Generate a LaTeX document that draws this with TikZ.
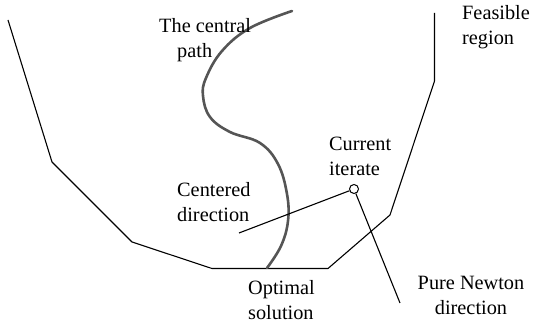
\documentclass[tikz,border=0pt]{standalone}
\usepackage{fontspec}
\setmainfont{Liberation Serif}
\begin{document}
\begin{tikzpicture}[x=1pt,y=-1pt,
  lbl/.style={inner sep=0pt, align=left, anchor=base west, font=\fontsize{20.3}{25.5}\selectfont},
  edge/.style={line width=1.1pt, line join=round},
  cpath/.style={line width=2.6pt, draw={rgb,255:red,85;green,85;blue,85}, line cap=round},
  iter/.style={circle, draw, line width=1pt, minimum size=9pt, inner sep=0pt}]
\useasboundingbox (0,0) rectangle (533,328);
% feasible region boundary
\coordinate (p1) at (8,20);
\coordinate (p2) at (52,162);
\coordinate (p3) at (132,242);
\coordinate (p4) at (212,268.5);
\coordinate (p5) at (328,268.5);
\coordinate (p6) at (390,215);
\coordinate (p7) at (434.5,81);
\coordinate (p8) at (434.5,13);
\draw[edge] (p1) -- (p2) -- (p3) -- (p4) -- (p5) -- (p6) -- (p7) -- (p8);
% central path
\draw[cpath] plot[smooth, tension=0.65] coordinates {(292,11) (250,28) (222,51) (206,78) (203,96) (210,117) (230,132) (260,143) (278,164) (287,194) (288,221) (281,246) (267,268)};
% current iterate
\node[iter] (it) at (354,189) {};
\coordinate (cdend) at (239,233);
\coordinate (pnend) at (400,303);
\draw[edge] (it) -- (cdend);
\draw[edge] (it) -- (pnend);
% labels (anchor at baseline of the last line)
\node[lbl] (tcp) at (159,58) {The central\\\hspace*{18pt}path};
\node[lbl] (fr) at (462,45) {Feasible\\region};
\node[lbl] (ci) at (329,176) {Current\\iterate};
\node[lbl] (cd) at (177,222) {Centered\\direction};
\node[lbl] (os) at (248,320) {Optimal\\solution};
\node[lbl, align=center, anchor=base] (pn) at (471,315) {Pure Newton\\direction};
\end{tikzpicture}
\end{document}
